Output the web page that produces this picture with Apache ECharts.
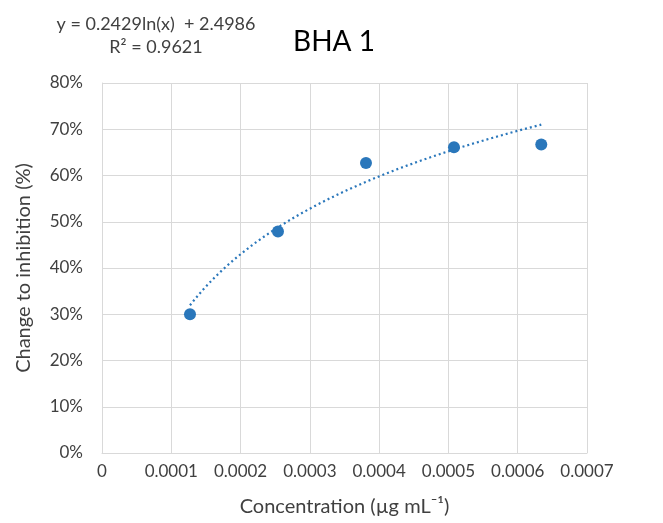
<!DOCTYPE html>
<html>
<head>
<meta charset="utf-8">
<script src="https://cdn.jsdelivr.net/npm/echarts@6/dist/echarts.min.js"></script>
<style>
  html, body { margin: 0; padding: 0; background: #fff; }
  #chart { width: 663px; height: 523px; }
</style>
</head>
<body>
<div id="chart"></div>
<script>
// Measured points: concentration (µg/mL) vs change to inhibition (fraction)
const concentrations = [0.000127, 0.000254, 0.000381, 0.000508, 0.000634];
const inhibition = [0.300, 0.479, 0.627, 0.661, 0.667];

// Logarithmic trendline coefficients: y = a ln(x) + b
const trendA = 0.2429;
const trendB = 2.4986;
const trendR2 = 0.9621;

const xTicks = [0, 0.0001, 0.0002, 0.0003, 0.0004, 0.0005, 0.0006, 0.0007];
const yTicks = [0, 0.1, 0.2, 0.3, 0.4, 0.5, 0.6, 0.7, 0.8];

const pointColor = '#2a77bb';
const textColor = '#404040';
const gridColor = '#d9d9d9';
const font = 'Lato, "Open Sans", sans-serif';

// Sample the fitted curve across the measured concentration range
const xMin = Math.min(...concentrations);
const xMax = Math.max(...concentrations);
const trend = [];
const steps = 80;
for (let i = 0; i <= steps; i++) {
  const x = xMin + (xMax - xMin) * i / steps;
  trend.push([x, trendA * Math.log(x) + trendB]);
}

const chart = echarts.init(document.getElementById('chart'));
chart.setOption({
  backgroundColor: '#fff',
  animation: false,
  title: [
    {
      text: 'BHA 1', left: 329, top: 23, textAlign: 'center',
      textStyle: { fontFamily: font, fontSize: 28, fontWeight: 'normal', color: '#000' }
    },
    {
      text: 'y = ' + trendA + 'ln(x)  + ' + trendB + '\nR² = ' + trendR2,
      left: 151, top: 8, textAlign: 'center',
      textStyle: { fontFamily: font, fontSize: 18, fontWeight: 'normal', color: textColor, lineHeight: 23, align: 'center' }
    }
  ],
  grid: { left: 102, right: 76, top: 83, bottom: 70 },
  xAxis: {
    type: 'value',
    min: xTicks[0], max: xTicks[xTicks.length - 1], interval: 0.0001,
    name: 'Concentration (µg mL⁻¹)',
    nameLocation: 'middle', nameGap: 44,
    nameTextStyle: { fontFamily: font, fontSize: 20, color: textColor },
    axisLine: { show: true, lineStyle: { color: gridColor, width: 1 } },
    axisTick: { show: false },
    axisLabel: {
      fontFamily: font, fontSize: 17, color: textColor, margin: 10,
      formatter: v => v === 0 ? '0' : v.toFixed(4)
    },
    splitLine: { show: true, lineStyle: { color: gridColor, width: 1 } }
  },
  yAxis: {
    type: 'value',
    min: yTicks[0], max: yTicks[yTicks.length - 1], interval: 0.1,
    name: 'Change to inhibition (%)',
    nameLocation: 'middle', nameGap: 68,
    nameTextStyle: { fontFamily: font, fontSize: 20, color: textColor },
    axisLine: { show: true, lineStyle: { color: gridColor, width: 1 } },
    axisTick: { show: false },
    axisLabel: {
      fontFamily: font, fontSize: 17, color: textColor, margin: 19,
      formatter: v => Math.round(v * 100) + '%'
    },
    splitLine: { show: true, lineStyle: { color: gridColor, width: 1 } }
  },
  series: [
    {
      name: 'Trend',
      type: 'line',
      data: trend,
      showSymbol: false,
      smooth: false,
      lineStyle: { color: pointColor, width: 2.2, type: [2, 3] },
      z: 2
    },
    {
      name: 'BHA 1',
      type: 'scatter',
      data: concentrations.map((x, i) => [x, inhibition[i]]),
      symbolSize: 12,
      itemStyle: { color: pointColor, opacity: 1 },
      z: 3
    }
  ]
});
</script>
</body>
</html>
